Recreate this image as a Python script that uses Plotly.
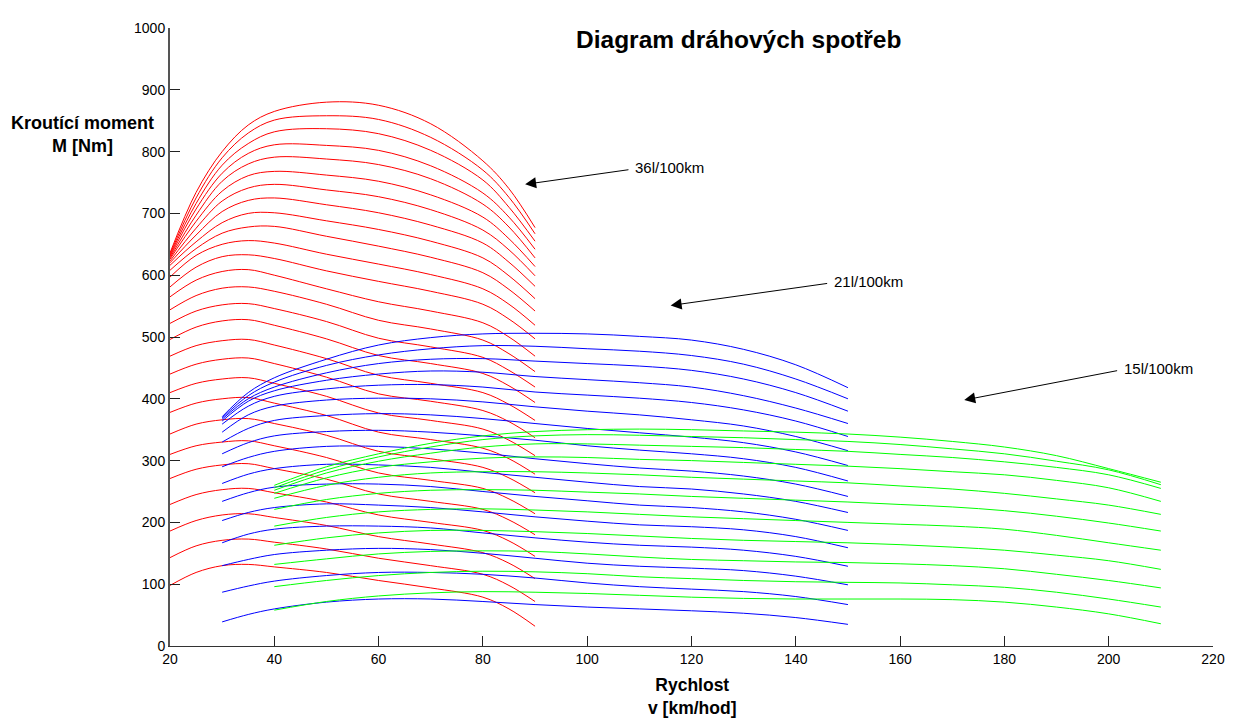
import plotly.graph_objects as go

# ---------------- data ----------------
RED_X = [20, 25, 30, 35, 40, 50, 60, 70, 80, 85, 90]
RED_CURVES = [
    [98, 119, 130, 132, 128, 119, 106, 94, 79, 60, 32],
    [143, 162, 171, 173, 168, 157, 142, 130, 116, 98, 72],
    [186, 203, 212, 214, 208, 195, 177, 165, 151, 134, 109],
    [229, 245, 253, 255, 248, 233, 212, 200, 187, 170, 145],
    [271, 286, 293, 295, 287, 270, 246, 234, 221, 204, 180],
    [310, 324, 330, 332, 324, 305, 280, 268, 255, 238, 214],
    [343, 359, 366, 368, 360, 341, 315, 303, 289, 272, 248],
    [378, 393, 400, 402, 393, 373, 346, 334, 320, 303, 278],
    [410, 425, 432, 434, 425, 404, 377, 365, 351, 333, 308],
    [440, 456, 464, 466, 457, 435, 408, 396, 381, 363, 337],
    [469, 486, 494, 496, 487, 465, 438, 425, 410, 391, 365],
    [496, 516, 526, 528, 519, 497, 470, 457, 441, 421, 394],
    [522, 542, 552, 554, 546, 525, 498, 484, 467, 446, 419],
    [544, 567, 579, 581, 574, 553, 527, 513, 495, 473, 444],
    [565, 592, 606, 609, 600, 578, 557, 542, 523, 500, 469],
    [581, 613, 630, 633, 627, 607, 590, 574, 553, 529, 497],
    [597, 632, 650, 656, 652, 634, 618, 601, 578, 553, 519],
    [608, 643, 668, 678, 679, 663, 647, 629, 604, 577, 542],
    [616, 654, 685, 700, 701, 688, 674, 655, 628, 599, 562],
    [620, 665, 703, 721, 725, 714, 701, 681, 652, 621, 582],
    [623, 676, 720, 741, 747, 738, 727, 706, 673, 641, 599],
    [626, 687, 736, 761, 768, 762, 752, 730, 694, 659, 614],
    [628, 697, 752, 780, 791, 788, 779, 756, 715, 678, 628],
    [630, 707, 765, 797, 811, 810, 802, 777, 733, 694, 642],
    [632, 716, 778, 813, 832, 837, 829, 802, 754, 710, 655],
    [634, 725, 790, 830, 851, 858, 852, 823, 770, 726, 667],
    [636, 734, 800, 843, 865, 880, 875, 845, 785, 740, 677],
]

BLUE_X = [30, 35, 40, 50, 60, 70, 80, 90, 100, 110, 120, 130, 140, 150]
BLUE_CURVES = [
    [39, 51, 60, 71, 76, 76, 72, 67, 63, 60, 57, 53, 46, 35],
    [87, 97, 105, 114, 119, 119, 116, 110, 102, 96, 92, 88, 80, 67],
    [130, 140, 148, 155, 158, 156, 150, 142, 134, 129, 126, 122, 113, 99],
    [167, 181, 189, 194, 194, 191, 183, 175, 168, 163, 160, 155, 145, 129],
    [203, 216, 224, 230, 228, 224, 217, 209, 202, 196, 193, 188, 177, 159],
    [234, 248, 257, 262, 262, 258, 250, 242, 235, 228, 224, 217, 205, 187],
    [263, 278, 287, 294, 293, 289, 281, 273, 265, 258, 254, 246, 234, 216],
    [290, 305, 315, 323, 323, 319, 312, 303, 295, 288, 283, 275, 262, 242],
    [311, 329, 340, 347, 349, 346, 340, 333, 324, 317, 311, 303, 289, 267],
    [330, 352, 365, 373, 376, 374, 368, 360, 352, 345, 338, 329, 314, 292],
    [346, 374, 388, 398, 401, 400, 395, 387, 380, 374, 366, 356, 339, 316],
    [359, 388, 404, 416, 422, 423, 419, 411, 406, 401, 394, 382, 364, 339],
    [364, 396, 413, 430, 440, 445, 443, 436, 431, 426, 419, 405, 385, 360],
    [367, 400, 419, 442, 457, 464, 465, 461, 457, 453, 446, 432, 410, 380],
    [369, 405, 427, 454, 471, 481, 486, 485, 481, 477, 470, 456, 432, 400],
    [371, 410, 434, 464, 487, 499, 505, 506, 505, 501, 495, 480, 455, 418],
]

GREEN_X = [40, 50, 60, 70, 80, 90, 100, 110, 120, 130, 140, 150, 160, 170, 180, 190, 200, 210]
GREEN_CURVES = [
    [58, 72, 81, 86, 88, 87, 85, 82, 79, 77, 76, 76, 76, 75, 71, 63, 52, 36],
    [96, 106, 114, 119, 121, 120, 117, 112, 109, 106, 104, 103, 102, 99, 95, 87, 76, 63],
    [132, 141, 149, 153, 154, 153, 149, 144, 140, 138, 136, 135, 133, 130, 125, 116, 106, 94],
    [163, 175, 183, 187, 187, 185, 182, 178, 174, 171, 169, 167, 164, 160, 155, 147, 138, 124],
    [194, 208, 217, 221, 222, 220, 217, 213, 209, 206, 203, 200, 197, 194, 189, 179, 167, 155],
    [221, 237, 247, 252, 253, 252, 249, 246, 242, 239, 236, 233, 229, 225, 219, 210, 199, 186],
    [239, 260, 273, 280, 282, 282, 280, 277, 273, 270, 267, 264, 259, 254, 247, 238, 228, 213],
    [247, 272, 289, 298, 304, 306, 305, 302, 300, 297, 294, 291, 287, 282, 277, 268, 256, 234],
    [252, 280, 299, 312, 322, 327, 327, 325, 323, 321, 318, 315, 310, 305, 298, 289, 277, 255],
    [256, 285, 306, 322, 334, 340, 342, 341, 339, 337, 334, 331, 326, 319, 311, 299, 285, 261],
    [260, 290, 311, 328, 340, 347, 350, 351, 350, 348, 346, 343, 338, 331, 322, 308, 287, 265],
]

X_TICKS = [20, 40, 60, 80, 100, 120, 140, 160, 180, 200, 220]
Y_TICKS = [0, 100, 200, 300, 400, 500, 600, 700, 800, 900, 1000]

ARROW_LABELS = ["36l/100km", "21l/100km", "15l/100km"]
ARROW_HEAD = [(88.1, 747), (116.0, 551), (172.3, 398)]
ARROW_TAIL = [(108.2, 771), (146.3, 587), (201.9, 446)]

TITLE = "Diagram dráhových spotřeb"
X_LABEL = "Rychlost<br>v [km/hod]"
Y_LABEL = "Kroutící moment<br>M [Nm]"

FONT = "Liberation Sans, Arial, sans-serif"

fig = go.Figure()

for xs, curves, color in ((RED_X, RED_CURVES, "#ff0000"),
                          (BLUE_X, BLUE_CURVES, "#0000ff"),
                          (GREEN_X, GREEN_CURVES, "#00ff00")):
    for ys in curves:
        fig.add_trace(go.Scatter(
            x=xs, y=ys, mode="lines",
            line=dict(color=color, width=1, shape="spline", smoothing=1.0),
            showlegend=False, hoverinfo="skip"))

annotations = []
for label, (hx, hy), (tx, ty) in zip(ARROW_LABELS, ARROW_HEAD, ARROW_TAIL):
    annotations.append(dict(
        x=hx, y=hy, ax=tx, ay=ty, xref="x", yref="y", axref="x", ayref="y",
        text="", showarrow=True, arrowhead=2, arrowsize=2.2, arrowwidth=1,
        arrowcolor="black", standoff=0, startstandoff=0))
    annotations.append(dict(
        x=tx, y=ty, xref="x", yref="y", text=label, showarrow=False,
        xanchor="left", yanchor="middle", xshift=3, yshift=2,
        font=dict(family=FONT, size=15, color="black")))

annotations.append(dict(
    x=0.545, y=0.982, xref="paper", yref="paper", text="<b>" + TITLE + "</b>",
    showarrow=False, xanchor="center", yanchor="middle",
    font=dict(family=FONT, size=24.5, color="black")))
annotations.append(dict(
    x=-0.084, y=0.827, xref="paper", yref="paper", text="<b>" + Y_LABEL + "</b>",
    showarrow=False, xanchor="center", yanchor="middle", align="center",
    font=dict(family=FONT, size=18, color="black")))
annotations.append(dict(
    x=0.5, y=-0.082, xref="paper", yref="paper", text="<b>" + X_LABEL + "</b>",
    showarrow=False, xanchor="center", yanchor="middle", align="center",
    font=dict(family=FONT, size=17.5, color="black")))

# the page body adds an 8px offset, so the figure is 8px smaller on each axis
fig.update_layout(
    width=1229, height=712,
    margin=dict(l=162, r=19, t=14, b=74),
    paper_bgcolor="white", plot_bgcolor="white",
    font=dict(family=FONT, size=14, color="black"),
    annotations=annotations,
    showlegend=False,
)
fig.update_xaxes(
    range=[20, 220], tickvals=X_TICKS, ticks="inside", ticklen=10,
    tickcolor="#222", tickwidth=1, showline=True, linecolor="#333",
    linewidth=1, showgrid=False, zeroline=False, mirror=False,
    tickfont=dict(size=14, color="black"))
fig.update_yaxes(
    range=[0, 1000], tickvals=Y_TICKS, ticks="inside", ticklen=10,
    tickcolor="#222", tickwidth=1, showline=True, linecolor="#555",
    linewidth=2, showgrid=False, zeroline=False, mirror=False,
    tickfont=dict(size=14, color="black"))

fig.write_html("out.html")
